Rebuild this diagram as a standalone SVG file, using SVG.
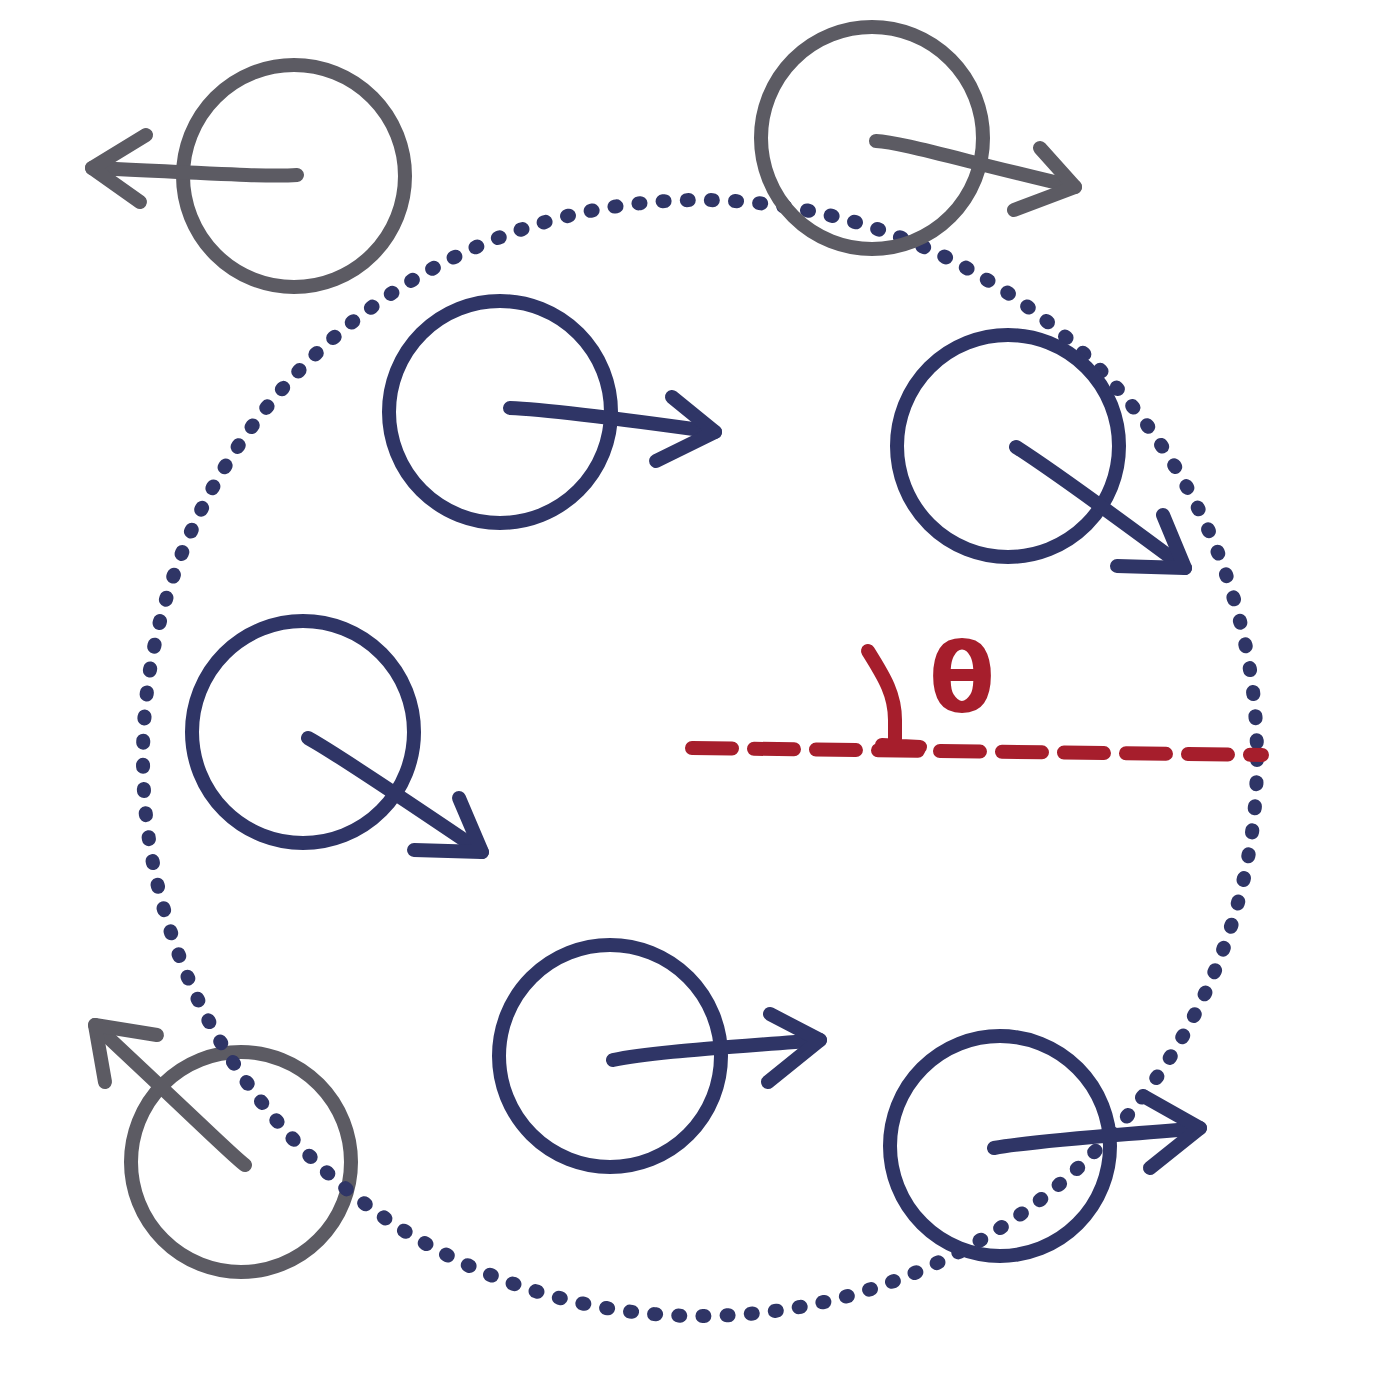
<svg xmlns="http://www.w3.org/2000/svg" width="1378" height="1378" viewBox="0 0 1378 1378">
<style>
.ring{fill:none;stroke-width:14}
.arr{fill:none;stroke-width:14;stroke-linecap:round;stroke-linejoin:round}
.blue{stroke:#2f3566}
.gray{stroke:#5c5b63}
.dots{fill:none;stroke:#2f3566;stroke-width:14;stroke-linecap:round;stroke-dasharray:2 22.2}
.red{stroke:#a61e2c}
</style>
<rect width="1378" height="1378" fill="#ffffff"/>
<g id="node-gray-bottom-left">
<circle class="ring gray" cx="241" cy="1162" r="110"/>
<path class="arr gray" d="M245 1165 C235 1158 220 1142 95 1025"/>
<path class="arr gray" d="M157 1035 L95 1025 L105 1082"/>
</g>
<g id="orbit">
<ellipse class="dots" cx="700" cy="758" rx="557" ry="558"/>
</g>
<g id="node-gray-top-left">
<circle class="ring gray" cx="294" cy="176" r="111"/>
<path class="arr gray" d="M297 175 C270 177 220 174 92 168"/>
<path class="arr gray" d="M146 135 L92 168 L140 202"/>
</g>
<g id="node-gray-top-right">
<circle class="ring gray" cx="872" cy="138" r="111"/>
<path class="arr gray" d="M876 141 C900 142 960 160 1075 187"/>
<path class="arr gray" d="M1040 148 L1075 187 L1014 210"/>
</g>
<g id="node-blue-1">
<circle class="ring blue" cx="500" cy="412" r="111"/>
<path class="arr blue" d="M510 408 C540 409 600 416 715 432"/>
<path class="arr blue" d="M672 397 L715 432 L656 461"/>
</g>
<g id="node-blue-2">
<circle class="ring blue" cx="1008" cy="446" r="111"/>
<path class="arr blue" d="M1016 447 C1030 456 1080 490 1185 568"/>
<path class="arr blue" d="M1163 515 L1185 568 L1117 566"/>
</g>
<g id="node-blue-3">
<circle class="ring blue" cx="303" cy="732" r="111"/>
<path class="arr blue" d="M308 738 C330 750 380 783 482 852"/>
<path class="arr blue" d="M459 798 L482 852 L414 850"/>
</g>
<g id="node-blue-4">
<circle class="ring blue" cx="610" cy="1056" r="111"/>
<path class="arr blue" d="M613 1060 C650 1052 720 1048 820 1040"/>
<path class="arr blue" d="M770 1014 L820 1040 L768 1082"/>
</g>
<g id="node-blue-5">
<circle class="ring blue" cx="1000" cy="1146" r="110"/>
<path class="arr blue" d="M994 1148 C1040 1140 1110 1136 1200 1128"/>
<path class="arr blue" d="M1145 1097 L1200 1128 L1150 1168"/>
</g>
<g id="angle">
<path class="arr red" d="M692 748 L1262 755" stroke-width="15" stroke-dasharray="40 22"/>
<path class="arr red" d="M868 651 C885 678 895 695 895 720 L895 745 M882 745 L920 747"/>
<text x="962" y="712" text-anchor="middle" font-family="DejaVu Sans, sans-serif" font-weight="bold" font-size="96" fill="#a61e2c">θ</text>
</g>
</svg>
